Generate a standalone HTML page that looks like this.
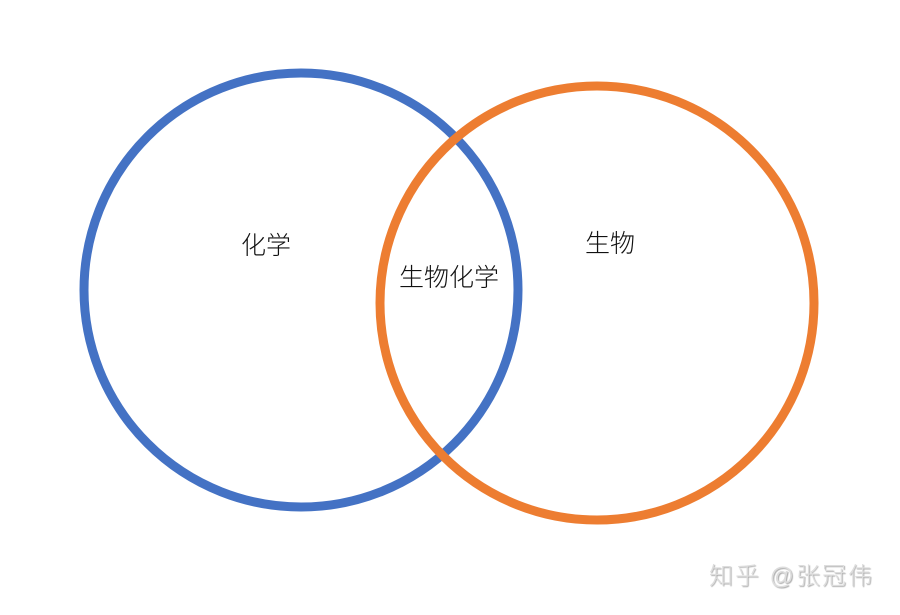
<!DOCTYPE html>
<html><head><meta charset="utf-8"><style>
html,body{margin:0;padding:0;background:#fff;}
body{width:900px;height:615px;overflow:hidden;position:relative;font-family:"Liberation Sans","Noto Sans CJK SC",sans-serif;}
.t{position:absolute;font-size:25px;color:#111;line-height:1;white-space:nowrap;font-weight:300;}
</style></head><body>
<svg width="900" height="615" style="position:absolute;left:0;top:0">
<circle cx="301" cy="290" r="217" fill="none" stroke="#4472C4" stroke-width="9"/>
<circle cx="597" cy="303" r="217" fill="none" stroke="#ED7D31" stroke-width="9"/>
</svg>
<div class="t" style="left:241px;top:234px">化学</div>
<div class="t" style="left:399px;top:266px">生物化学</div>
<div class="t" style="left:585px;top:232px">生物</div>
<div class="t" style="left:709px;top:565px;font-size:24px;letter-spacing:2px;color:#ddd;text-shadow:1px 1px 1px #aaa">知乎 @张冠伟</div>
</body></html>
